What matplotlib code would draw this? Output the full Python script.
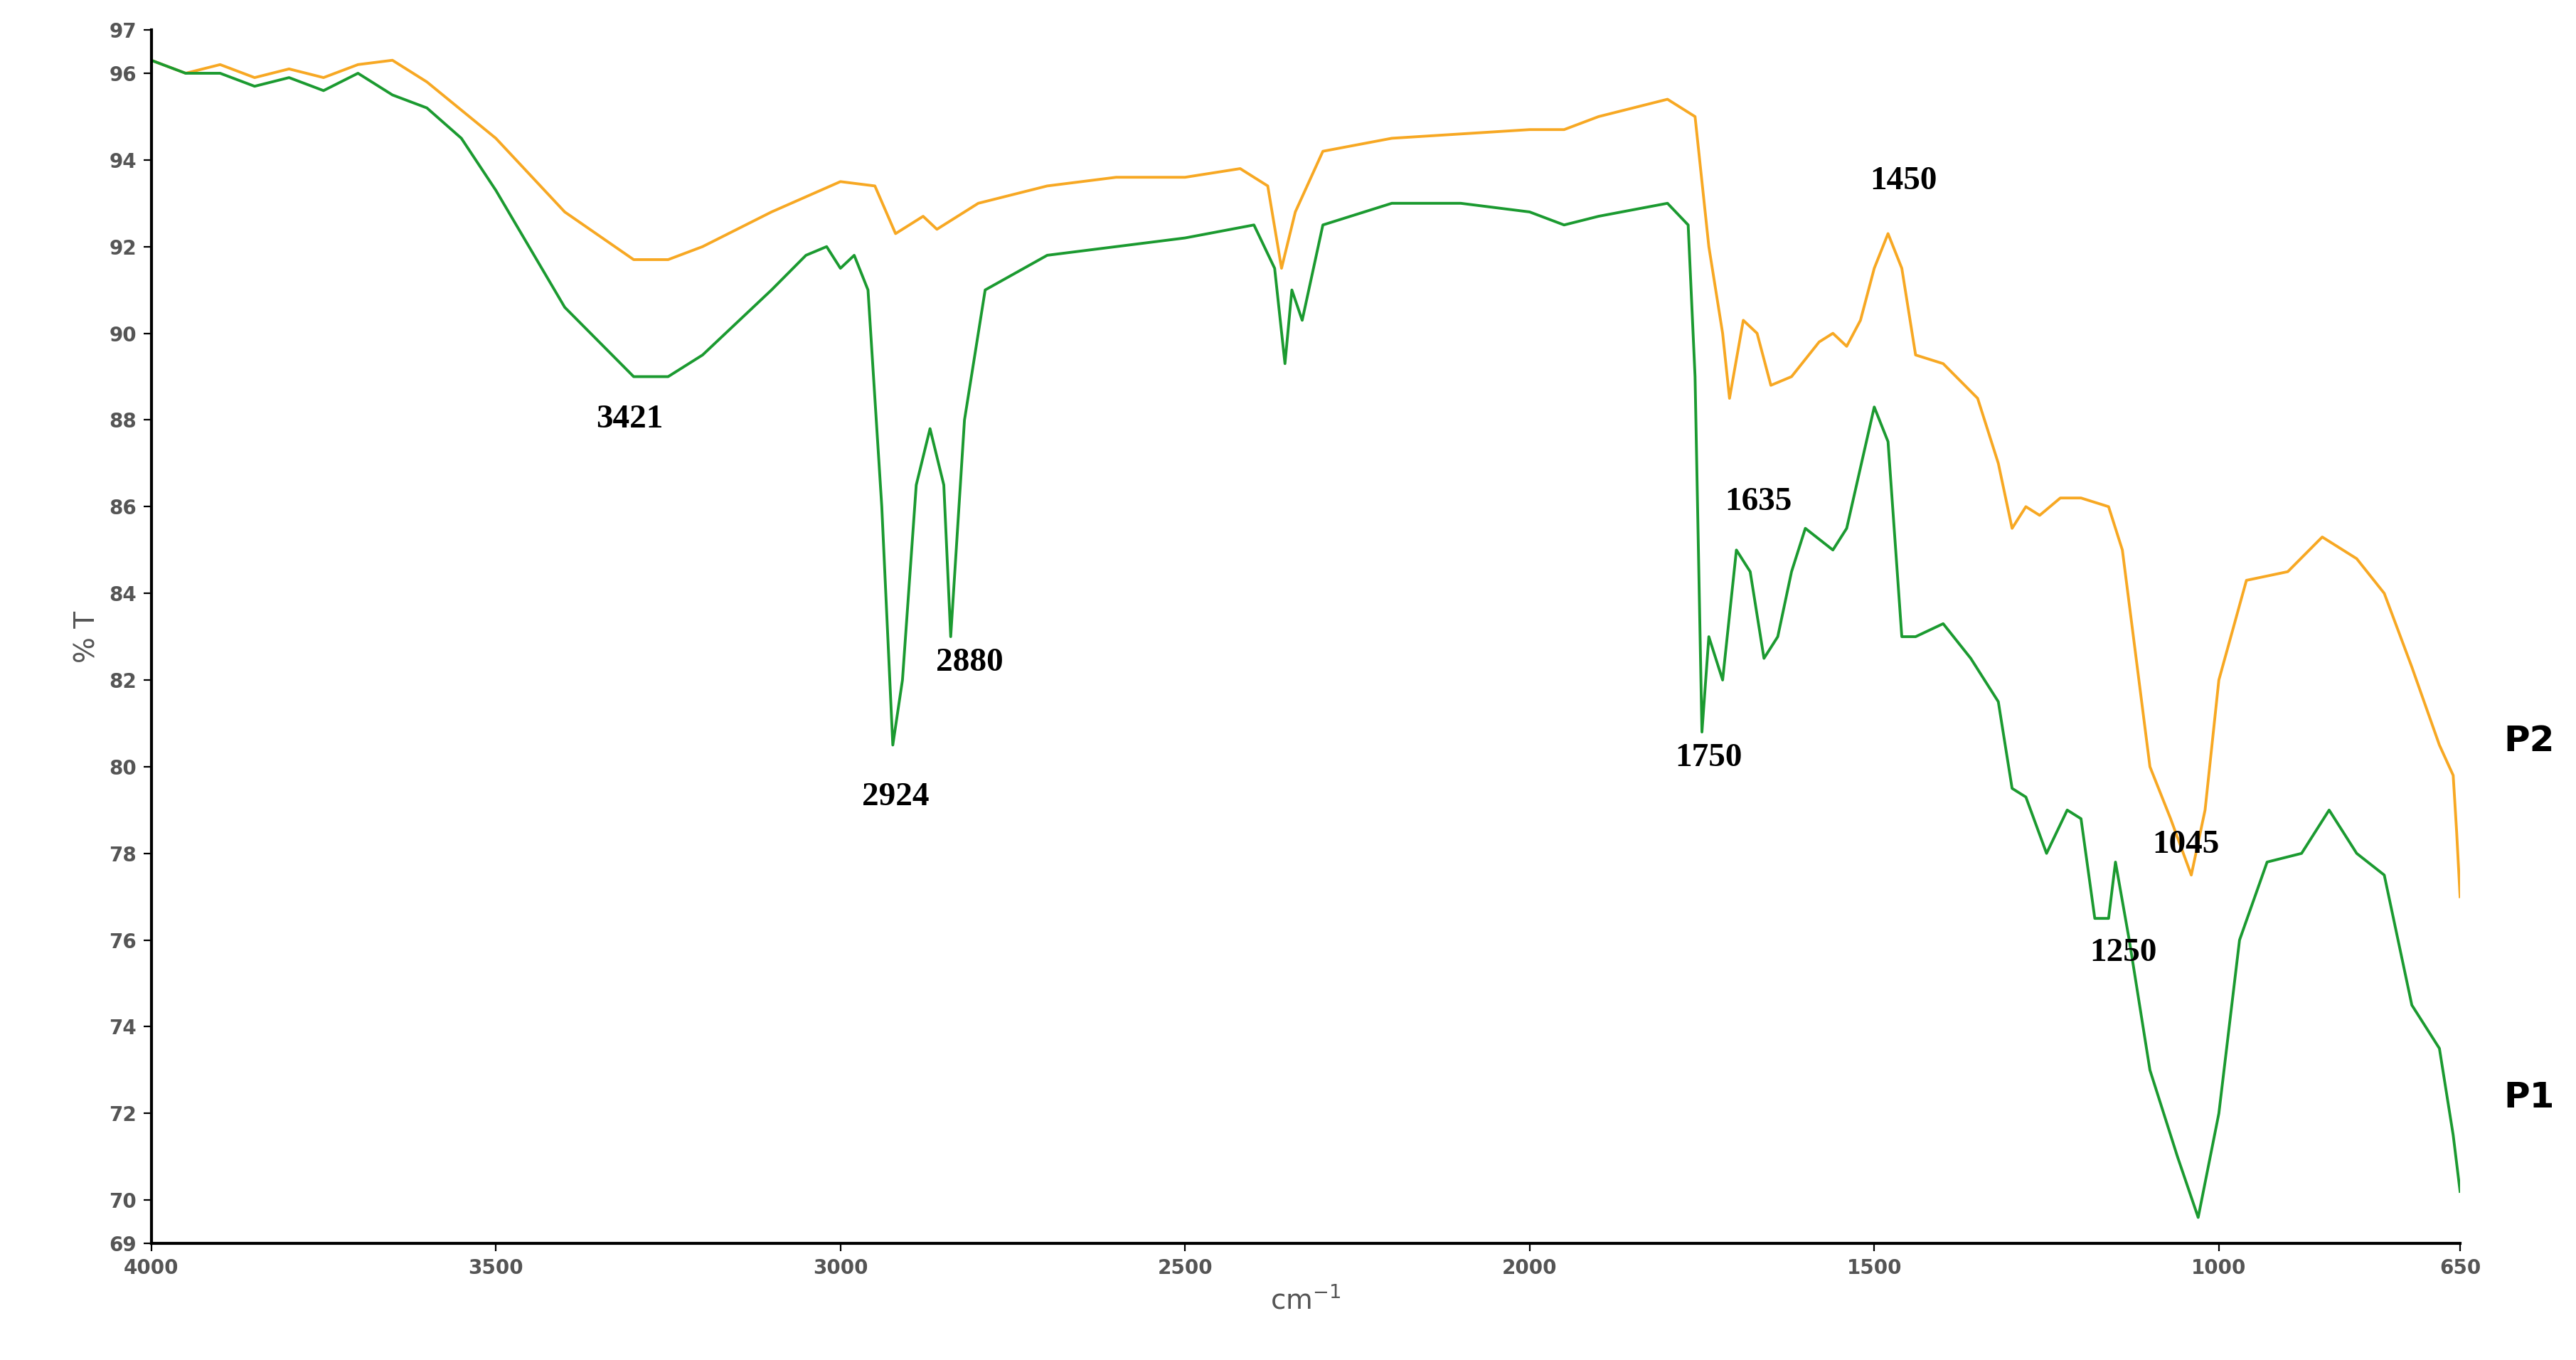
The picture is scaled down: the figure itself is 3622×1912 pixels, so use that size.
import matplotlib.pyplot as plt

# wavenumber (cm-1) and %T
p2_wn = [4000, 3950, 3900, 3850, 3800, 3750, 3700, 3650, 3600, 3500, 3400, 3300, 3250, 3200, 3100, 3000,
         2950, 2920, 2900, 2880, 2860, 2800, 2700, 2600, 2500, 2420, 2380, 2360, 2340, 2320, 2300, 2200,
         2100, 2000, 1950, 1900, 1800, 1760, 1740, 1720, 1710, 1690, 1670, 1650, 1620, 1580, 1560, 1540,
         1520, 1500, 1480, 1460, 1440, 1400, 1350, 1320, 1300, 1280, 1260, 1230, 1200, 1160, 1140, 1120,
         1100, 1070, 1040, 1020, 1000, 960, 900, 850, 800, 760, 720, 680, 660, 655, 650]
p2_t = [96.3, 96.0, 96.2, 95.9, 96.1, 95.9, 96.2, 96.3, 95.8, 94.5, 92.8, 91.7, 91.7, 92.0, 92.8, 93.5,
        93.4, 92.3, 92.5, 92.7, 92.4, 93.0, 93.4, 93.6, 93.6, 93.8, 93.4, 91.5, 92.8, 93.5, 94.2, 94.5,
        94.6, 94.7, 94.7, 95.0, 95.4, 95.0, 92.0, 90.0, 88.5, 90.3, 90.0, 88.8, 89.0, 89.8, 90.0, 89.7,
        90.3, 91.5, 92.3, 91.5, 89.5, 89.3, 88.5, 87.0, 85.5, 86.0, 85.8, 86.2, 86.2, 86.0, 85.0, 82.5,
        80.0, 78.8, 77.5, 79.0, 82.0, 84.3, 84.5, 85.3, 84.8, 84.0, 82.3, 80.5, 79.8, 78.5, 77.0]

p1_wn = [4000, 3950, 3900, 3850, 3800, 3750, 3700, 3650, 3600, 3550, 3500, 3400, 3300, 3250, 3200, 3100,
         3050, 3020, 3000, 2980, 2960, 2940, 2924, 2910, 2890, 2870, 2850, 2840, 2820, 2790, 2700, 2600,
         2500, 2400, 2370, 2355, 2345, 2330, 2300, 2200, 2100, 2000, 1950, 1900, 1800, 1770, 1760, 1750,
         1740, 1720, 1700, 1680, 1660, 1640, 1620, 1600, 1560, 1540, 1500, 1480, 1460, 1440, 1400, 1360,
         1320, 1300, 1280, 1250, 1220, 1200, 1180, 1160, 1150, 1130, 1100, 1060, 1030, 1000, 970, 930,
         880, 840, 800, 760, 720, 680, 670, 660, 650]
p1_t = [96.3, 96.0, 96.0, 95.7, 95.9, 95.6, 96.0, 95.5, 95.2, 94.5, 93.3, 90.6, 89.0, 89.0, 89.5, 91.0,
        91.8, 92.0, 91.5, 91.8, 91.0, 86.0, 80.5, 82.0, 86.5, 87.8, 86.5, 83.0, 88.0, 91.0, 91.8, 92.0,
        92.2, 92.5, 91.5, 89.3, 91.0, 90.3, 92.5, 93.0, 93.0, 92.8, 92.5, 92.7, 93.0, 92.5, 89.0, 80.8,
        83.0, 82.0, 85.0, 84.5, 82.5, 83.0, 84.5, 85.5, 85.0, 85.5, 88.3, 87.5, 83.0, 83.0, 83.3, 82.5,
        81.5, 79.5, 79.3, 78.0, 79.0, 78.8, 76.5, 76.5, 77.8, 76.0, 73.0, 71.0, 69.6, 72.0, 76.0, 77.8,
        78.0, 79.0, 78.0, 77.5, 74.5, 73.5, 72.5, 71.5, 70.2]

peak_labels = ['3421', '2924', '2880', '1750', '1635', '1450', '1045', '1250']
peak_x = [3306, 2920, 2813, 1740, 1668, 1458, 1048, 1139]
peak_y = [88.0, 79.3, 82.4, 80.2, 86.1, 93.5, 78.2, 75.7]

yticks = [69, 70, 72, 74, 76, 78, 80, 82, 84, 86, 88, 90, 92, 94, 96, 97]
xticks = [4000, 3500, 3000, 2500, 2000, 1500, 1000, 650]

fig = plt.figure(figsize=(18.11, 9.56), dpi=200)
ax = fig.add_axes([0.0587, 0.0857, 0.8963, 0.8923])

ax.plot(p2_wn, p2_t, color='#f7a823', lw=1.4)
ax.plot(p1_wn, p1_t, color='#1b9a30', lw=1.4)

for lab, x, y in zip(peak_labels, peak_x, peak_y):
    ax.text(x, y, lab, ha='center', va='center', fontsize=17, fontweight='bold',
            family='Liberation Serif')

ax.text(1.03, 0.12, 'P1', transform=ax.transAxes, fontsize=18, fontweight='bold', va='center', ha='center')
ax.text(1.03, 0.414, 'P2', transform=ax.transAxes, fontsize=18, fontweight='bold', va='center', ha='center')

ax.set_xlim(4000, 650)
ax.set_ylim(69, 97)
ax.set_xticks(xticks)
ax.set_yticks(yticks)
ax.tick_params(labelsize=10, labelcolor='#555555', length=4)
for lab in ax.get_xticklabels() + ax.get_yticklabels():
    lab.set_fontweight('bold')
ax.spines['top'].set_visible(False)
ax.spines['right'].set_visible(False)
ax.spines['left'].set_linewidth(1.5)
ax.spines['bottom'].set_linewidth(1.5)
ax.set_ylabel('% T', fontsize=14, color='#555555')
ax.set_xlabel('cm$^{-1}$', fontsize=14, color='#555555')

fig.savefig('out.png')
